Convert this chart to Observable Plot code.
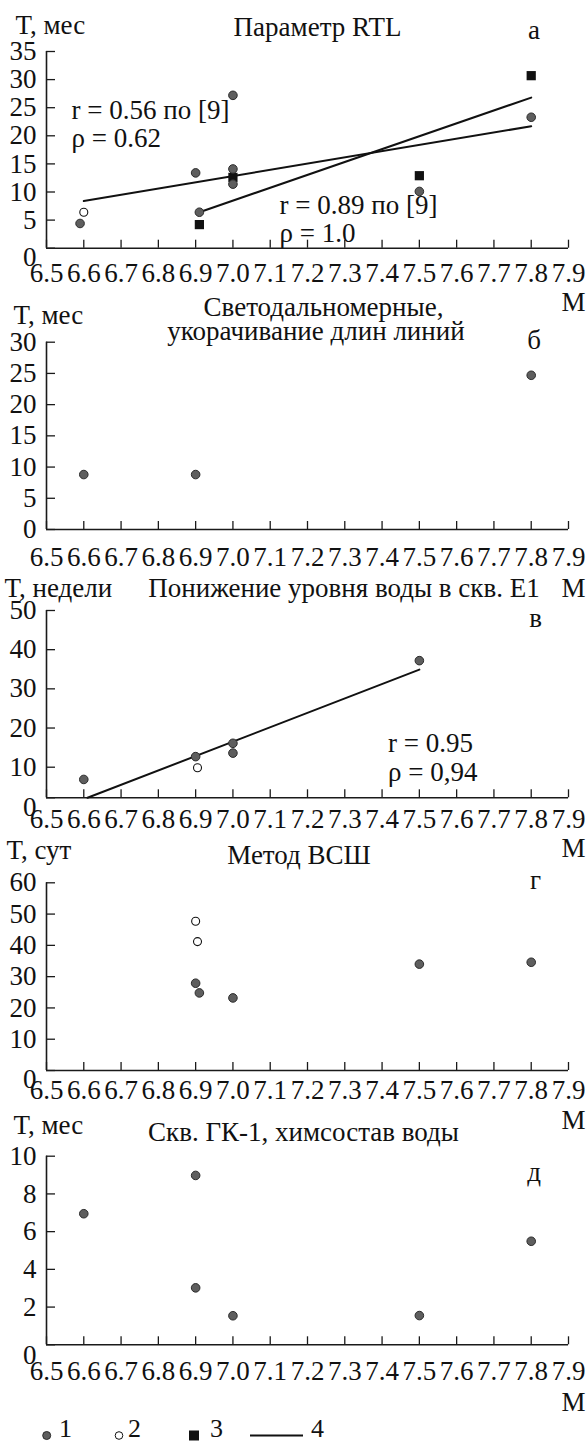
<!DOCTYPE html>
<html>
<head>
<meta charset="utf-8">
<script src="https://cdn.jsdelivr.net/npm/d3@7"></script>
<script src="https://cdn.jsdelivr.net/npm/@observablehq/plot@0.6"></script>
<style>
  body { margin: 0; background: #fff; }
  #root { position: relative; width: 587px; height: 1443px; overflow: hidden; font-family: "Liberation Serif", "Times New Roman", serif; }
  #root svg { position: absolute; left: 0; overflow: visible; background: transparent; font-family: "Liberation Serif", "Times New Roman", serif !important; }
  #root svg text { font-family: "Liberation Serif", "Times New Roman", serif !important; }
</style>
</head>
<body>
<div id="root"></div>
<script>
// ---------- shared ----------
const xTicks = [6.5, 6.6, 6.7, 6.8, 6.9, 7.0, 7.1, 7.2, 7.3, 7.4, 7.5, 7.6, 7.7, 7.8, 7.9];

// ---------- panel а: Параметр RTL ----------
const rtlTicks = [0, 5, 10, 15, 20, 25, 30, 35];
const rtlGrayM = [6.59, 6.90, 6.91, 7.00, 7.00, 7.00, 7.50, 7.80];
const rtlGrayT = [4.4, 13.4, 6.4, 27.2, 14.1, 11.4, 10.1, 23.3];
const rtlOpenM = [6.60];
const rtlOpenT = [6.4];
const rtlSquareM = [6.91, 7.00, 7.50, 7.80];
const rtlSquareT = [4.2, 12.6, 12.9, 30.7];
const rtlLine1M = [6.60, 7.80];
const rtlLine1T = [8.4, 21.7];
const rtlLine2M = [6.91, 7.80];
const rtlLine2T = [6.4, 26.8];

// ---------- panel б: Светодальномерные ----------
const ednTicks = [0, 5, 10, 15, 20, 25, 30];
const ednGrayM = [6.60, 6.90, 7.80];
const ednGrayT = [8.8, 8.8, 24.7];

// ---------- panel в: Понижение уровня воды ----------
const wellTicks = [0, 10, 20, 30, 40, 50];
const wellGrayM = [6.60, 6.90, 7.00, 7.00, 7.50];
const wellGrayT = [6.0, 12.7, 16.1, 13.6, 37.2];
const wellOpenM = [6.905];
const wellOpenT = [9.8];
const wellLineM = [6.61, 7.50];
const wellLineT = [0, 34.9];

// ---------- panel г: Метод ВСШ ----------
const vsshTicks = [0, 10, 20, 30, 40, 50, 60];
const vsshGrayM = [6.90, 6.91, 7.00, 7.50, 7.80];
const vsshGrayT = [27.9, 24.8, 23.2, 34.0, 34.6];
const vsshOpenM = [6.90, 6.905];
const vsshOpenT = [47.7, 41.2];

// ---------- panel д: Скв. ГК-1 ----------
const gkTicks = [0, 2, 4, 6, 8, 10];
const gkGrayM = [6.60, 6.90, 6.90, 7.00, 7.50, 7.80];
const gkGrayT = [6.95, 8.98, 3.02, 1.54, 1.55, 5.49];

// ---------- legend ----------
const legendItems = ["1", "2", "3", "4"];

// ---------- styles ----------
const W = 587, FL = 46, FR = 568, FS = 27;
const FONT = "Liberation Serif";
const AX = "#1a1a1a";
const GRAY = "#5e5e5e";
const root = document.getElementById("root");

const grayDots = (M, T) => Plot.dot(T, {x: M, y: T, r: 4.3, fill: GRAY, stroke: "#2b2b2b", strokeWidth: 1});
const openDots = (M, T) => Plot.dot(T, {x: M, y: T, r: 4, fill: "white", stroke: "#111", strokeWidth: 1.1});
const squares = (M, T) => Plot.dot(T, {x: M, y: T, r: 5.2, symbol: "square", fill: "#111", stroke: "none"});
const fitLine = (M, T) => Plot.line(T, {x: M, y: T, stroke: "#111", strokeWidth: 2});

// the в panel's printed axis has a shorter 0–10 step than its 10–50 steps
const wellLowStep = 30.6 / 39.18;
const wellAxis = t => (t <= 10 ? t * wellLowStep : 10 * wellLowStep + (t - 10));

function panel({bandTop, bandH, frameTop, frameBottom, y, yTicks, zeroDy, xLabelDy, marks, labels}) {
  const mt = frameTop - bandTop, mb = bandTop + bandH - frameBottom;
  const fh = frameBottom - frameTop, fw = FR - FL;
  const txt = {fontSize: FS, fontFamily: FONT, fill: "#111"};
  const ann = labels.map(([s, ax, ay, anchor]) =>
    Plot.text([s], {text: d => d, frameAnchor: "top-left", dx: ax - FL, dy: ay - frameTop,
      textAnchor: anchor, lineAnchor: "middle", ...txt}));
  const svg = Plot.plot({
    width: W, height: bandH,
    marginLeft: FL, marginRight: W - FR, marginTop: mt, marginBottom: mb,
    x: {domain: [6.5, 7.9], axis: null},
    y: {...y, axis: null},
    marks: [
      Plot.ruleX(xTicks, {x: d => d, insetTop: fh - 8, stroke: AX, strokeWidth: 1.3}),
      Plot.ruleY(yTicks, {y: d => d, insetRight: fw - 9, stroke: AX, strokeWidth: 1.3}),
      Plot.ruleX([6.5], {stroke: AX, strokeWidth: 1.6}),
      Plot.ruleY([0], {stroke: AX, strokeWidth: 1.6}),
      Plot.text(xTicks, {x: d => d, text: d => d.toFixed(1), frameAnchor: "bottom", dy: xLabelDy, lineAnchor: "middle", ...txt}),
      Plot.text(yTicks.filter(d => d !== 0), {y: d => d, text: d => String(d), frameAnchor: "left", dx: -10, textAnchor: "end", lineAnchor: "middle", ...txt}),
      Plot.text(yTicks.filter(d => d === 0), {y: d => d, text: d => String(d), frameAnchor: "left", dx: -10, dy: zeroDy, textAnchor: "end", lineAnchor: "middle", ...txt}),
      ...marks,
      ...ann
    ]
  });
  svg.style.top = bandTop + "px";
  root.append(svg);
}

// а
panel({
  bandTop: 0, bandH: 290, frameTop: 51, frameBottom: 247.7,
  y: {domain: [0, 35]}, yTicks: rtlTicks, zeroDy: 9, xLabelDy: 25.6,
  marks: [fitLine(rtlLine1M, rtlLine1T), fitLine(rtlLine2M, rtlLine2T),
          squares(rtlSquareM, rtlSquareT), grayDots(rtlGrayM, rtlGrayT), openDots(rtlOpenM, rtlOpenT)],
  labels: [
    ["T, мес", 15, 25, "start"],
    ["Параметр RTL", 317, 27, "middle"],
    ["а", 533.5, 29.5, "middle"],
    ["r = 0.56 по [9]", 71, 110, "start"],
    ["ρ = 0.62", 71, 138, "start"],
    ["r = 0.89 по [9]", 279, 205, "start"],
    ["ρ = 1.0", 279, 233, "start"],
    ["M", 573, 301.7, "middle"]
  ]
});

// б
panel({
  bandTop: 290, bandH: 285, frameTop: 341.7, frameBottom: 529,
  y: {domain: [0, 30]}, yTicks: ednTicks, zeroDy: 0, xLabelDy: 27.7,
  marks: [grayDots(ednGrayM, ednGrayT)],
  labels: [
    ["T, мес", 13, 315, "start"],
    ["Светодальномерные,", 323, 306.7, "middle"],
    ["укорачивание длин линий", 315.5, 331, "middle"],
    ["б", 533.5, 340, "middle"],
    ["M", 573, 588, "middle"]
  ]
});

// в
panel({
  bandTop: 575, bandH: 270, frameTop: 610, frameBottom: 797.3,
  y: {transform: wellAxis, domain: [0, wellAxis(50)]},
  yTicks: wellTicks, zeroDy: 10, xLabelDy: 21.7,
  marks: [fitLine(wellLineM, wellLineT), grayDots(wellGrayM, wellGrayT), openDots(wellOpenM, wellOpenT)],
  labels: [
    ["T, недели", 4, 588, "start"],
    ["Понижение уровня воды в скв. E1", 343.5, 588, "middle"],
    ["в", 535, 618, "middle"],
    ["r = 0.95", 387.5, 743.3, "start"],
    ["ρ = 0,94", 387.5, 771.7, "start"],
    ["M", 573, 848.3, "middle"]
  ]
});

// г
panel({
  bandTop: 845, bandH: 270, frameTop: 882.3, frameBottom: 1070,
  y: {domain: [0, 60]}, yTicks: vsshTicks, zeroDy: 9, xLabelDy: 20,
  marks: [grayDots(vsshGrayM, vsshGrayT), openDots(vsshOpenM, vsshOpenT)],
  labels: [
    ["T, сут", 6, 850, "start"],
    ["Метод ВСШ", 298.5, 855, "middle"],
    ["г", 535, 880, "middle"],
    ["M", 573, 1120, "middle"]
  ]
});

// д
panel({
  bandTop: 1115, bandH: 290, frameTop: 1155.7, frameBottom: 1344.3,
  y: {domain: [0, 10]}, yTicks: gkTicks, zeroDy: 11, xLabelDy: 26.4,
  marks: [grayDots(gkGrayM, gkGrayT)],
  labels: [
    ["T, мес", 13, 1125, "start"],
    ["Скв. ГК-1, химсостав воды", 303, 1132, "middle"],
    ["д", 533.5, 1172, "middle"],
    ["M", 573, 1401.7, "middle"]
  ]
});

// ---------- legend (below the last panel) ----------
const legTop = 1408;
const leg = d3.create("svg").attr("width", W).attr("height", 1443 - legTop)
  .style("top", legTop + "px")
  .attr("font-size", 26);
const ly = 1435.5 - legTop;
leg.append("circle").attr("cx", 46.7).attr("cy", ly).attr("r", 4).attr("fill", GRAY).attr("stroke", "#2b2b2b");
leg.append("circle").attr("cx", 119).attr("cy", ly).attr("r", 3.8).attr("fill", "white").attr("stroke", "#111");
leg.append("rect").attr("x", 189).attr("y", ly - 5).attr("width", 10).attr("height", 10).attr("fill", "#111");
leg.append("line").attr("x1", 250).attr("x2", 303).attr("y1", ly).attr("y2", ly).attr("stroke", "#111").attr("stroke-width", 2);
[59, 128, 210, 311].forEach((x, i) => {
  leg.append("text").attr("x", x).attr("y", 1429 - legTop).attr("dy", "0.32em").attr("fill", "#111").text(legendItems[i]);
});
root.append(leg.node());
</script>
</body>
</html>
